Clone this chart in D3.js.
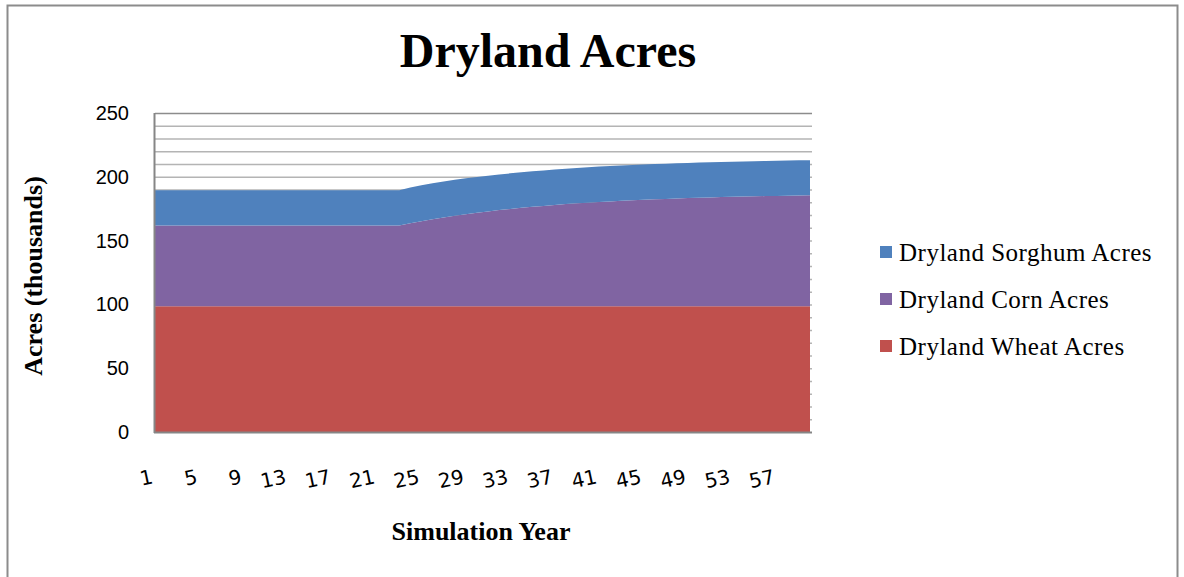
<!DOCTYPE html>
<html>
<head>
<meta charset="utf-8">
<script src="https://cdn.jsdelivr.net/npm/d3@7"></script>
<style>
  body { margin: 0; background: #fff; }
  svg { display: block; }
</style>
</head>
<body>
<svg id="chart" width="1184" height="577"></svg>
<script>
// simulation years 1..60
const years = [
  1, 2, 3, 4, 5, 6, 7, 8, 9, 10, 11, 12, 13, 14, 15, 16, 17, 18, 19, 20,
  21, 22, 23, 24, 25, 26, 27, 28, 29, 30, 31, 32, 33, 34, 35, 36, 37, 38, 39, 40,
  41, 42, 43, 44, 45, 46, 47, 48, 49, 50, 51, 52, 53, 54, 55, 56, 57, 58, 59, 60
];
const yearLabels = ["1", "5", "9", "13", "17", "21", "25", "29", "33", "37", "41", "45", "49", "53", "57"];

// values in thousands of acres
const wheatAcres = [
  98.5, 98.5, 98.5, 98.5, 98.5, 98.5, 98.5, 98.5, 98.5, 98.5, 98.5, 98.5, 98.5, 98.5, 98.5, 98.5, 98.5, 98.5, 98.5, 98.5,
  98.5, 98.5, 98.5, 98.5, 98.5, 98.5, 98.5, 98.5, 98.5, 98.5, 98.5, 98.5, 98.5, 98.5, 98.5, 98.5, 98.5, 98.5, 98.5, 98.5,
  98.5, 98.5, 98.5, 98.5, 98.5, 98.5, 98.5, 98.5, 98.5, 98.5, 98.5, 98.5, 98.5, 98.5, 98.5, 98.5, 98.5, 98.5, 98.5, 98.5
];
const cornAcres = [
  63.3, 63.3, 63.3, 63.3, 63.3, 63.3, 63.3, 63.3, 63.3, 63.3, 63.3, 63.3, 63.3, 63.3, 63.3, 63.3, 63.3, 63.3, 63.3, 63.3,
  63.3, 63.3, 63.3, 65.1, 66.7, 68.2, 69.6, 71.0, 72.2, 73.3, 74.4, 75.4, 76.3, 77.2, 78.0, 78.7, 79.4, 80.1, 80.7, 81.2,
  81.8, 82.2, 82.7, 83.1, 83.5, 83.9, 84.2, 84.5, 84.8, 85.1, 85.3, 85.6, 85.8, 86.0, 86.2, 86.4, 86.5, 86.7, 86.9, 87.0
];
const sorghumAcres = [
  27.7, 27.7, 27.7, 27.7, 27.7, 27.7, 27.7, 27.7, 27.7, 27.7, 27.7, 27.7, 27.7, 27.7, 27.7, 27.7, 27.7, 27.7, 27.7, 27.7,
  27.7, 27.7, 27.7, 28.0, 28.2, 28.3, 28.3, 28.2, 28.1, 28.0, 28.0, 27.9, 27.9, 27.9, 27.8, 27.8, 27.8, 27.8, 27.7, 27.7,
  27.7, 27.7, 27.7, 27.7, 27.6, 27.6, 27.6, 27.6, 27.6, 27.6, 27.6, 27.5, 27.5, 27.5, 27.5, 27.5, 27.5, 27.5, 27.5, 27.5
];

const seriesNames = ["Dryland Wheat Acres", "Dryland Corn Acres", "Dryland Sorghum Acres"];
const seriesColors = ["#C0504D", "#8064A2", "#4F81BD"];
const yTicks = [0, 50, 100, 150, 200, 250];

const svg = d3.select("#chart");

// outer chart border
svg.append("rect")
  .attr("x", 7.5).attr("y", 5.5)
  .attr("width", 1170).attr("height", 580)
  .attr("fill", "none")
  .attr("stroke", "#8c8c8c")
  .attr("stroke-width", 2);

const plot = { left: 155, right: 810, top: 113, bottom: 432 };

const x = d3.scalePoint()
  .domain(years)
  .range([plot.left, plot.right]);

const y = d3.scaleLinear()
  .domain([0, 250])
  .range([plot.bottom, plot.top]);

// gridlines every 10
svg.append("g")
  .selectAll("line")
  .data(d3.range(10, 260, 10))
  .join("line")
  .attr("x1", plot.left).attr("x2", plot.right + 2)
  .attr("y1", d => y(d) + 0.5).attr("y2", d => y(d) + 0.5)
  .attr("stroke", d => d === 250 ? "#8c8c8c" : "#b4b4b4")
  .attr("stroke-width", 1.5);

const table = years.map((yr, i) => ({
  year: yr,
  wheat: wheatAcres[i],
  corn: cornAcres[i],
  sorghum: sorghumAcres[i]
}));

const stack = d3.stack().keys(["wheat", "corn", "sorghum"]);
const layers = stack(table);

const area = d3.area()
  .x(d => x(d.data.year))
  .y0(d => y(d[0]))
  .y1(d => y(d[1]));

svg.append("g")
  .selectAll("path")
  .data(layers)
  .join("path")
  .attr("d", area)
  .attr("fill", (d, i) => seriesColors[i]);

// axes lines
svg.append("line")
  .attr("x1", plot.left - 0.5).attr("x2", plot.left - 0.5)
  .attr("y1", plot.top).attr("y2", plot.bottom + 1)
  .attr("stroke", "#868686").attr("stroke-width", 2);
svg.append("line")
  .attr("x1", plot.left - 1).attr("x2", plot.right + 2)
  .attr("y1", plot.bottom + 0.5).attr("y2", plot.bottom + 0.5)
  .attr("stroke", "#868686").attr("stroke-width", 2);

// y tick labels
svg.append("g")
  .selectAll("text")
  .data(yTicks)
  .join("text")
  .attr("x", 129)
  .attr("y", d => y(d))
  .attr("dy", "0.35em")
  .attr("text-anchor", "end")
  .style("font-family", "'Liberation Sans', Arial, sans-serif")
  .style("font-size", "20px")
  .attr("fill", "#000")
  .text(d => d);

// x tick labels (tilted)
svg.append("g")
  .selectAll("text")
  .data(yearLabels)
  .join("text")
  .attr("transform", d => `translate(${x(+d) - 1},${483}) rotate(-12)`)
  .attr("text-anchor", "end")
  .style("font-family", "'DejaVu Sans', sans-serif")
  .style("font-size", "20px")
  .attr("fill", "#000")
  .text(d => d);

// title
svg.append("text")
  .attr("x", 548).attr("y", 67)
  .attr("text-anchor", "middle")
  .style("font-family", "'Liberation Serif', 'Times New Roman', serif")
  .style("font-weight", "bold")
  .style("font-size", "48px")
  .text("Dryland Acres");

// axis titles
svg.append("text")
  .attr("transform", `translate(42,${276}) rotate(-90)`)
  .attr("text-anchor", "middle")
  .style("font-family", "'Liberation Serif', 'Times New Roman', serif")
  .style("font-weight", "bold")
  .style("font-size", "26px")
  .text("Acres (thousands)");

svg.append("text")
  .attr("x", 481).attr("y", 540)
  .attr("text-anchor", "middle")
  .style("font-family", "'Liberation Serif', 'Times New Roman', serif")
  .style("font-weight", "bold")
  .style("font-size", "26px")
  .text("Simulation Year");

// legend, top-down: sorghum, corn, wheat
const legendOrder = [2, 1, 0];
const legend = svg.append("g")
  .selectAll("g")
  .data(legendOrder)
  .join("g")
  .attr("transform", (d, i) => `translate(880,${252 + i * 47})`);

legend.append("rect")
  .attr("x", 0).attr("y", -6)
  .attr("width", 12).attr("height", 12)
  .attr("fill", d => seriesColors[d]);

legend.append("text")
  .attr("x", 19).attr("y", 0)
  .attr("dy", "0.35em")
  .style("font-family", "'Liberation Serif', 'Times New Roman', serif")
  .style("font-size", "25px")
  .style("letter-spacing", "0.5px")
  .text(d => seriesNames[d]);
</script>
</body>
</html>
